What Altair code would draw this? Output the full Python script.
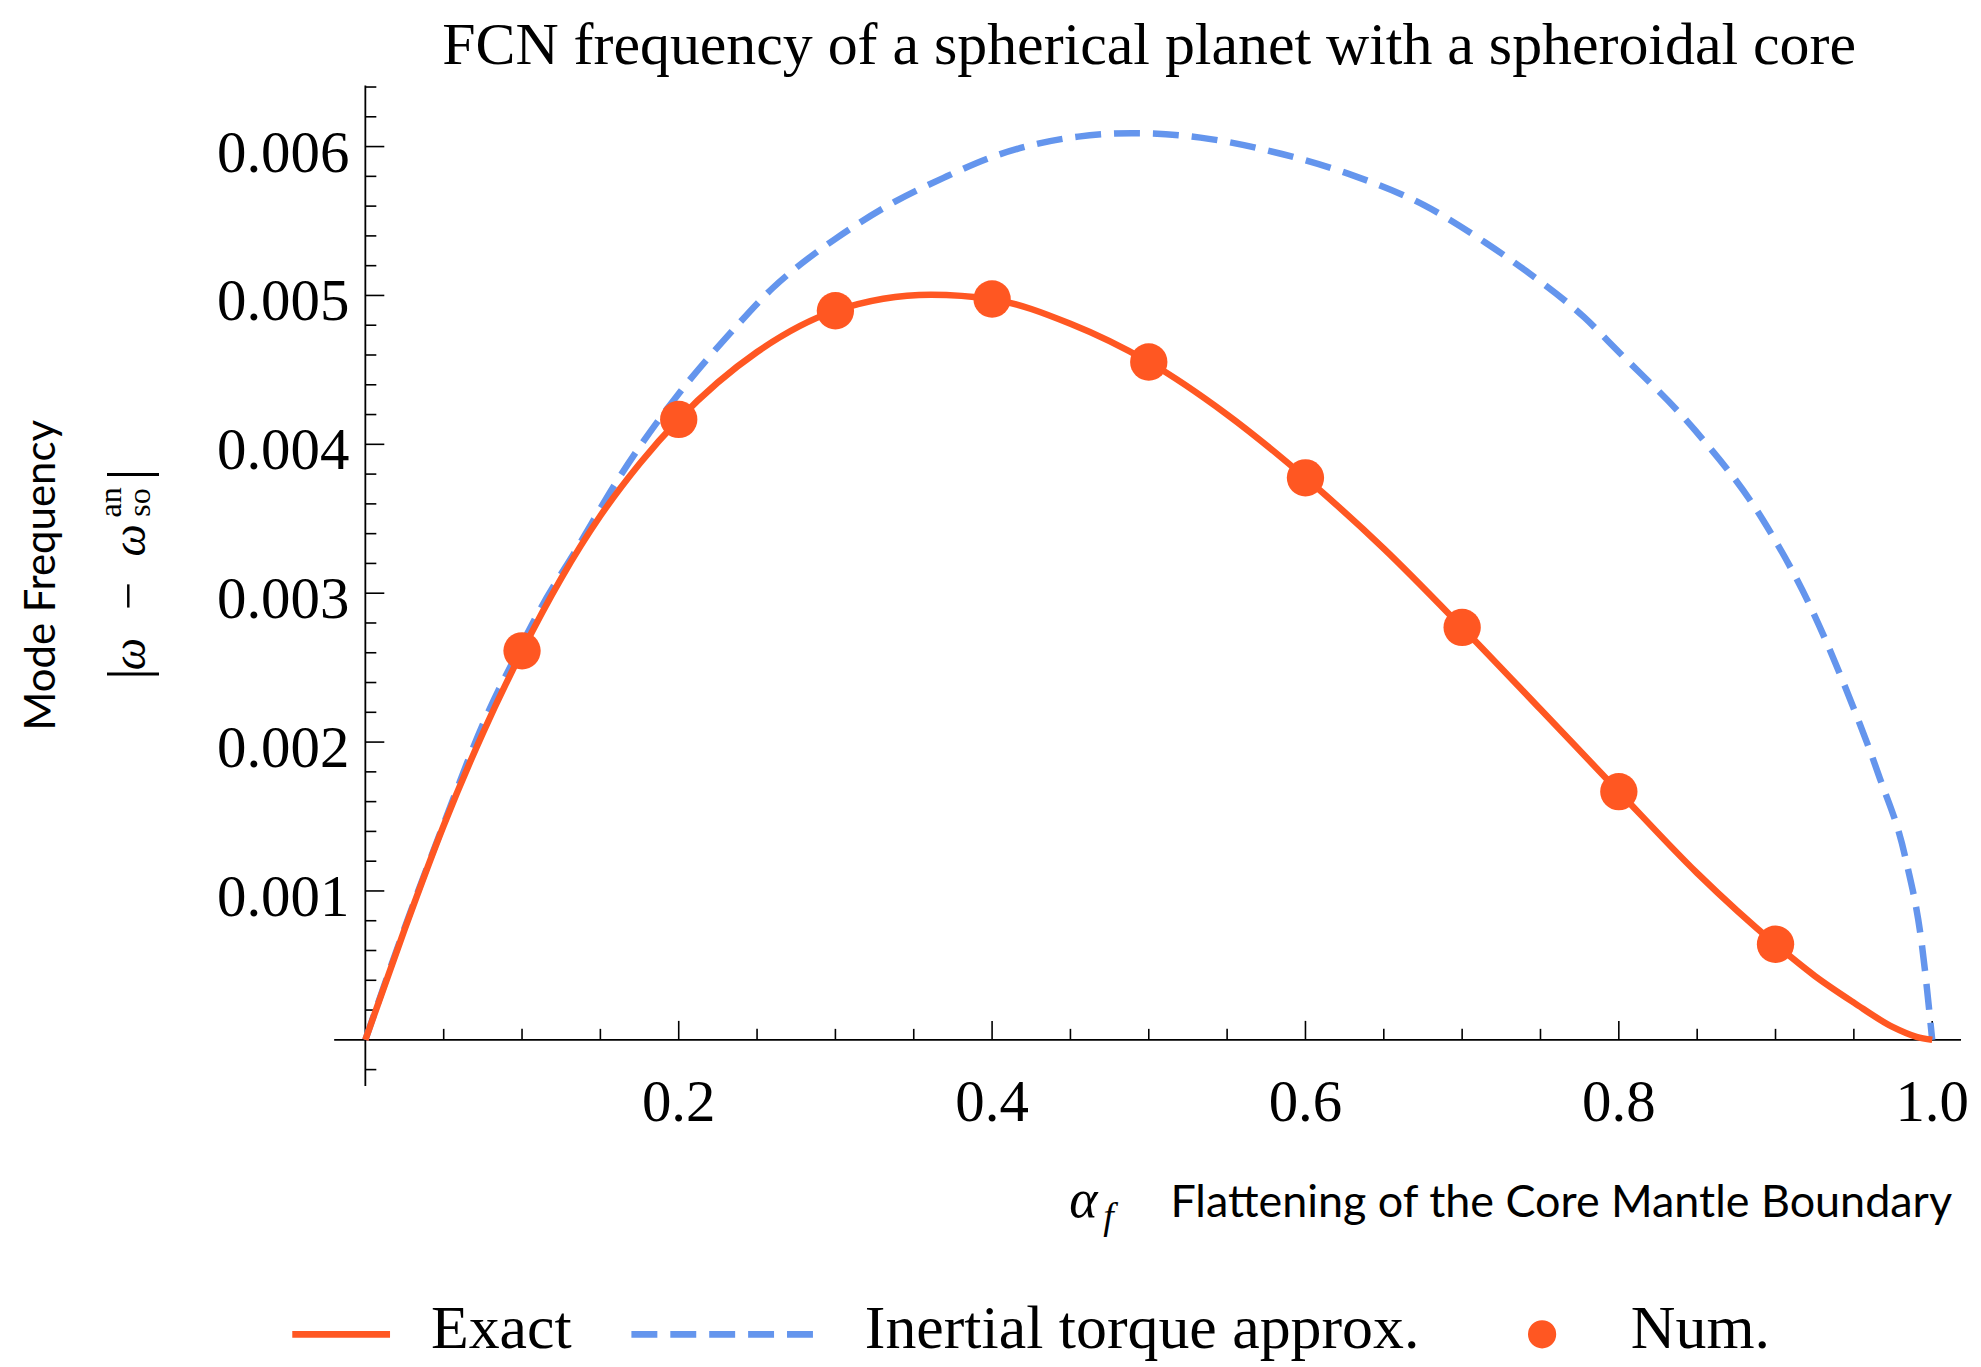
import altair as alt
import pandas as pd

# ---------------- data ----------------
exact_x = [0, 0.025, 0.05, 0.075, 0.1, 0.125, 0.15, 0.175, 0.2, 0.25, 0.3, 0.361,
           0.4, 0.45, 0.5, 0.55, 0.6, 0.65, 0.7, 0.75, 0.8, 0.85, 0.9, 0.925, 0.95, 0.975,
           0.99, 1.0]
exact_y = [0, 0.00074, 0.00144, 0.00206, 0.00261, 0.00310, 0.00352, 0.00387, 0.004167,
           0.00462, 0.004897, 0.005005, 0.004975, 0.00481, 0.004553, 0.00420, 0.003775,
           0.00330, 0.00277, 0.00222, 0.001667, 0.00112, 0.000642, 0.00043, 0.00025,
           0.000085, 0.00002, 0]

inertial_x = [0, 0.025, 0.05, 0.075, 0.1, 0.112, 0.135, 0.161, 0.2, 0.234, 0.26, 0.286,
              0.3, 0.338, 0.369, 0.4, 0.455, 0.489, 0.533, 0.585, 0.632, 0.676, 0.715,
              0.741, 0.778, 0.8, 0.849, 0.8915, 0.9234, 0.9446, 0.9658, 0.9828, 0.9934, 1.0]
inertial_y = [0, 0.00075, 0.00145, 0.00212, 0.00266, 0.00290, 0.00330, 0.00376, 0.00434,
              0.00476, 0.00505, 0.005275, 0.00538, 0.00563, 0.00579, 0.00593, 0.006067,
              0.00609, 0.00606, 0.00595, 0.00580, 0.005605, 0.005354, 0.005163, 0.004852,
              0.00462, 0.00409, 0.00350, 0.002885, 0.002366, 0.00178, 0.001227, 0.00064, 0]

num_x = [0.1, 0.2, 0.3, 0.4, 0.5, 0.6, 0.7, 0.8, 0.9]
num_y = [0.002613, 0.004167, 0.004897, 0.004976, 0.004553, 0.003775, 0.002770, 0.001667, 0.000642]

x_major_ticks = [0.2, 0.4, 0.6, 0.8, 1.0]
x_minor_ticks = [0.05, 0.1, 0.15, 0.25, 0.3, 0.35, 0.45, 0.5, 0.55, 0.65, 0.7, 0.75,
                 0.85, 0.9, 0.95]
y_major_ticks = [0.001, 0.002, 0.003, 0.004, 0.005, 0.006]
y_minor_ticks = [-0.0002, 0.0002, 0.0004, 0.0006, 0.0008, 0.0012, 0.0014, 0.0016, 0.0018,
                 0.0022, 0.0024, 0.0026, 0.0028, 0.0032, 0.0034, 0.0036, 0.0038,
                 0.0042, 0.0044, 0.0046, 0.0048, 0.0052, 0.0054, 0.0056, 0.0058,
                 0.0062, 0.0064]

title_text = "FCN frequency of a spherical planet with a spheroidal core"
legend_labels = ["Exact", "Inertial torque approx.", "Num."]

# ---------------- styling ----------------
RED = "#FF5722"
BLUE = "#6495ED"
SERIF = "Liberation Serif"
SANS = "Lato"
W, H = 1631, 1003

xs = alt.Scale(domain=[-0.0199, 1.0184], nice=False, zero=False)
ys = alt.Scale(domain=[-0.00031, 0.00641], nice=False, zero=False)

one = pd.DataFrame({"k": [0]})


def txt(text, x, y, size, font=SERIF, align="center", style="normal", angle=0):
    return alt.Chart(one).mark_text(
        text=text, fontSize=size, font=font, align=align, baseline="alphabetic",
        angle=angle, fontStyle=style, color="black"
    ).encode(x=alt.value(x), y=alt.value(y))


# axes lines
x_axis = alt.Chart(one).mark_rule(color="black", strokeWidth=1.8).encode(
    x=alt.value(0), x2=alt.value(W), y=alt.YDatum(0, scale=ys, axis=None))
y_axis = alt.Chart(one).mark_rule(color="black", strokeWidth=1.8).encode(
    y=alt.value(0), y2=alt.value(H), x=alt.XDatum(0, scale=xs, axis=None))


# ticks (pointing inward)
def xticks(vals, length):
    return alt.Chart(pd.DataFrame({"t": vals})).mark_rule(
        color="black", strokeWidth=1.6, y2Offset=-length).encode(
        x=alt.X("t:Q", scale=xs, axis=None),
        y=alt.YDatum(0, scale=ys, axis=None), y2=alt.Y2Datum(0))


def yticks(vals, length):
    return alt.Chart(pd.DataFrame({"t": vals})).mark_rule(
        color="black", strokeWidth=1.6, x2Offset=length).encode(
        y=alt.Y("t:Q", scale=ys, axis=None),
        x=alt.XDatum(0, scale=xs, axis=None), x2=alt.X2Datum(0))


x_lab = alt.Chart(pd.DataFrame({"t": x_major_ticks})).mark_text(
    font=SERIF, fontSize=59, baseline="alphabetic", align="center", dy=81, color="black"
).encode(x=alt.X("t:Q", scale=xs, axis=None), y=alt.YDatum(0, scale=ys, axis=None),
         text=alt.Text("t:Q", format=".1f"))

y_lab = alt.Chart(pd.DataFrame({"t": y_major_ticks})).mark_text(
    font=SERIF, fontSize=59, baseline="alphabetic", align="right", dx=-16, dy=25, color="black"
).encode(y=alt.Y("t:Q", scale=ys, axis=None), x=alt.XDatum(0, scale=xs, axis=None),
         text=alt.Text("t:Q", format=".3f"))

# curves
inertial = alt.Chart(pd.DataFrame({"x": inertial_x, "y": inertial_y})).mark_line(
    color=BLUE, strokeWidth=6.5, strokeDash=[26, 13], strokeCap="butt", interpolate="monotone"
).encode(x=alt.X("x:Q", scale=xs, axis=None), y=alt.Y("y:Q", scale=ys, axis=None))

exact = alt.Chart(pd.DataFrame({"x": exact_x, "y": exact_y})).mark_line(
    color=RED, strokeWidth=6.5, interpolate="monotone"
).encode(x=alt.X("x:Q", scale=xs, axis=None), y=alt.Y("y:Q", scale=ys, axis=None))

num = alt.Chart(pd.DataFrame({"x": num_x, "y": num_y})).mark_point(
    filled=True, color=RED, opacity=1, size=1400, shape="circle"
).encode(x=alt.X("x:Q", scale=xs, axis=None), y=alt.Y("y:Q", scale=ys, axis=None))

# annotations (title, axis titles)
title = txt(title_text, 817, -22, 60)
ylab1 = txt("Mode Frequency", -280, 491, 42, font=SANS, angle=270)
ylab2 = [
    txt("|", -188, 590, 58, angle=270),
    txt("ω", -190, 570, 46, style="italic", angle=270),
    txt("−", -190, 512, 50, angle=270),
    txt("ω", -190, 456, 46, style="italic", angle=270),
    txt("an", -214, 418, 32, angle=270),
    txt("so", -185, 418, 32, angle=270),
    txt("|", -188, 390, 58, angle=270),
]
xlab_alpha = txt("α", 737, 1134, 54, align="left", style="italic")
xlab_f = txt("f", 771, 1146, 38, align="left", style="italic")
xlab_text = txt("Flattening of the Core Mantle Boundary", 1622, 1134, 45, font=SANS, align="right")

# legend
LY = 1252
TY = 1266
leg_exact = alt.Chart(one).mark_rule(color=RED, strokeWidth=6.7).encode(
    x=alt.value(-42), x2=alt.value(56), y=alt.value(LY))
leg_inert = alt.Chart(one).mark_rule(color=BLUE, strokeWidth=6.7, strokeDash=[26, 13],
                                     strokeCap="butt").encode(
    x=alt.value(298), x2=alt.value(481), y=alt.value(LY))
leg_num = alt.Chart(one).mark_point(filled=True, color=RED, opacity=1, size=800,
                                    shape="circle").encode(
    x=alt.value(1211), y=alt.value(LY))
leg_t1 = txt(legend_labels[0], 97, TY, 62, align="left")
leg_t2 = txt(legend_labels[1], 532, TY, 62, align="left")
leg_t3 = txt(legend_labels[2], 1300, TY, 62, align="left")

chart = alt.layer(
    x_axis, y_axis,
    xticks(x_major_ticks, 19), xticks(x_minor_ticks, 11),
    yticks(y_major_ticks, 19), yticks(y_minor_ticks, 11),
    x_lab, y_lab,
    inertial, exact, num,
    title, ylab1, *ylab2, xlab_alpha, xlab_f, xlab_text,
    leg_exact, leg_inert, leg_num, leg_t1, leg_t2, leg_t3,
).properties(
    width=W, height=H,
    padding={"left": 327, "top": 76, "right": 12, "bottom": 278},
    autosize=alt.AutoSizeParams(type="none"),
    background="white",
).configure_view(stroke=None)

chart.save("out.html", embed_options={"renderer": "svg", "actions": False})
